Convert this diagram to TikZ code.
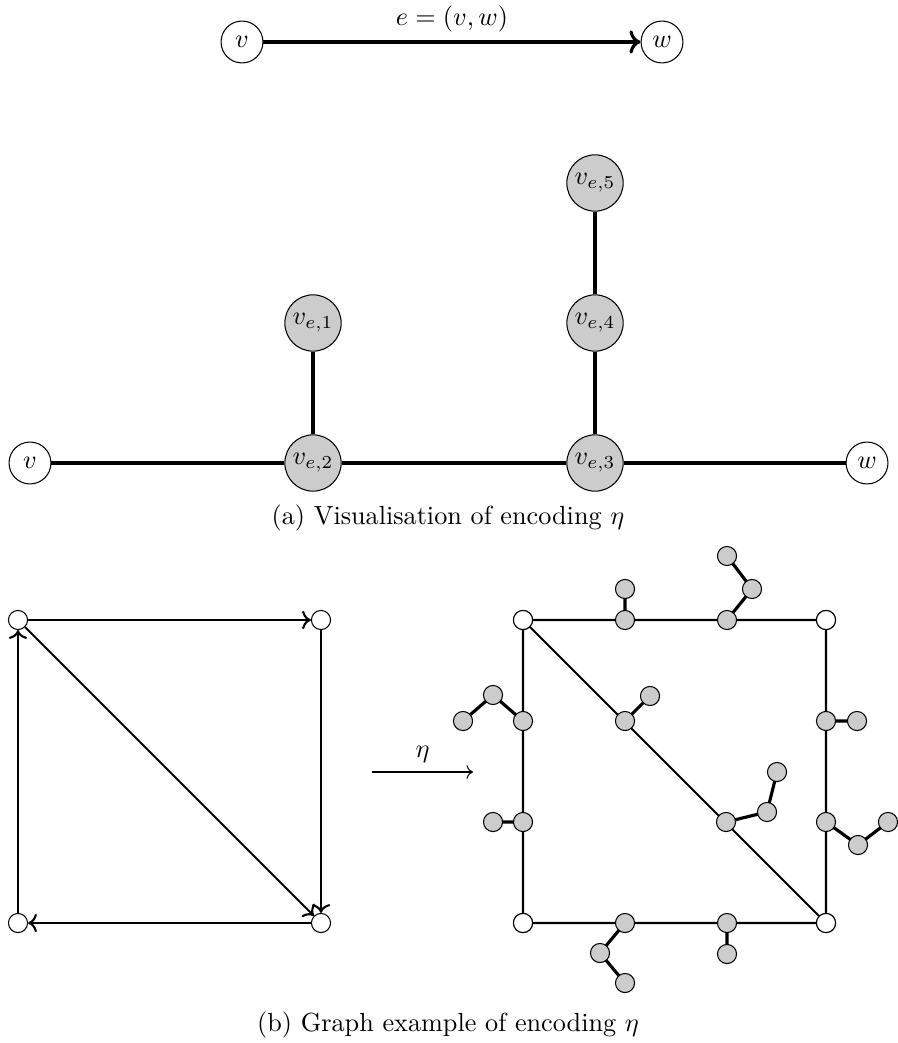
\documentclass[tikz,border=0pt]{standalone}
\usepackage{amsmath,amssymb}
\usepackage{tikz}
\usetikzlibrary{arrows.meta,positioning}
\tikzset{
  vtx/.style={draw,circle,fill=white,inner sep=1pt,minimum size=16pt},
  enc/.style={draw,circle,fill=black!20,inner sep=1pt,minimum size=21.5pt},
  sv/.style={draw,circle,fill=white,inner sep=0pt,minimum size=7.3pt},
  sg/.style={draw,circle,fill=black!20,inner sep=0pt,minimum size=7.3pt},
}

\begin{document}
\begin{tikzpicture}[x=0.3817pt,y=-0.3817pt]
  \useasboundingbox (0,0) rectangle (898,1043);
  % (a) single edge
  \node[vtx] (tv) at (242,42) {$v$};
  \node[vtx] (tw) at (662,42) {$w$};
  \draw[very thick,->] (tv) -- node[above] {$e=(v,w)$} (tw);

  % (a) encoding of the edge
  \node[vtx] (v) at (30,463) {$v$};
  \node[vtx] (w) at (867,463) {$w$};
  \node[enc] (e2) at (313,463) {$v_{e,2}$};
  \node[enc] (e3) at (595,463) {$v_{e,3}$};
  \node[enc] (e1) at (313,323) {$v_{e,1}$};
  \node[enc] (e4) at (595,323) {$v_{e,4}$};
  \node[enc] (e5) at (595,183) {$v_{e,5}$};
  \draw[very thick] (v) -- (e2) -- (e3) -- (w);
  \draw[very thick] (e1) -- (e2);
  \draw[very thick] (e3) -- (e4) -- (e5);
  \node (capa) at (448,518) {(a) Visualisation of encoding $\eta$};

  % (b) directed graph
  \node[sv] (a) at (18,620) {};
  \node[sv] (b) at (321,620) {};
  \node[sv] (c) at (18,923) {};
  \node[sv] (d) at (321,923) {};
  \draw[thick,->] (a) -- (b);
  \draw[thick,->] (b) -- (d);
  \draw[thick,->] (a) -- (d);
  \draw[thick,->] (d) -- (c);
  \draw[thick,->] (c) -- (a);

  \coordinate (ml) at (372,772);
  \coordinate (mr) at (473,772);
  \draw[->] (ml) -- node[above] {$\eta$} (mr);

  % (b) encoded graph
  \node[sv] (A) at (523,620) {};
  \node[sv] (B) at (826,620) {};
  \node[sv] (C) at (523,923) {};
  \node[sv] (D) at (826,923) {};
  \foreach \n/\x/\y in {t1/625/620,t1a/625/589,t2/727/620,t2a/752/589,t2b/727/556,
      l1/523/721,l1a/493/695,l1b/463/721,l2/523/822,l2a/493/822,
      g1/625/721,g1a/650/696,g2/726/822,g2a/767/812,g2b/777/772,
      r1/826/721,r1a/857/721,r2/826/822,r2a/858/845,r2b/888/822,
      b1/625/923,b1a/600/953,b1b/625/983,b2/727/923,b2a/727/954}{
    \coordinate (\n) at (\x,\y);
  }
  \draw[thick] (A) -- (B) -- (D) -- (C) -- (A) -- (D);
  \draw[very thick] (t1) -- (t1a) (t2) -- (t2a) -- (t2b);
  \draw[very thick] (l1) -- (l1a) -- (l1b) (l2) -- (l2a);
  \draw[very thick] (g1) -- (g1a) (g2) -- (g2a) -- (g2b);
  \draw[very thick] (r1) -- (r1a) (r2) -- (r2a) -- (r2b);
  \draw[very thick] (b1) -- (b1a) -- (b1b) (b2) -- (b2a);
  \foreach \n in {t1,t1a,t2,t2a,t2b,l1,l1a,l1b,l2,l2a,g1,g1a,g2,g2a,g2b,
      r1,r1a,r2,r2a,r2b,b1,b1a,b1b,b2,b2a}{
    \node[sg] at (\n) {};
  }
  \node[sv] at (A) {};
  \node[sv] at (B) {};
  \node[sv] at (C) {};
  \node[sv] at (D) {};

  \node (capb) at (448,1025) {(b) Graph example of encoding $\eta$};
\end{tikzpicture}
\end{document}
